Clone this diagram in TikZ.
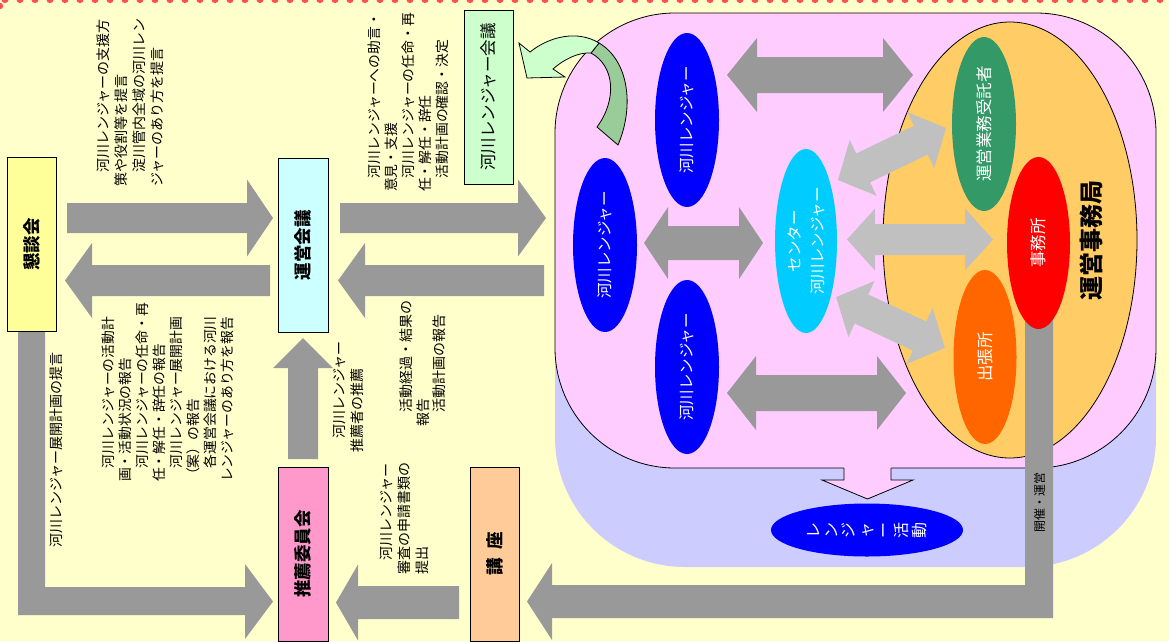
\documentclass[tikz,border=0pt]{standalone}
\usepackage{fontspec}
\setmainfont{Noto Sans CJK JP}
\usetikzlibrary{shapes.geometric}
\definecolor{bg}{HTML}{FFFFCC}
\definecolor{dotred}{HTML}{FF5050}
\definecolor{lav}{HTML}{CCCCFF}
\definecolor{pinkR}{HTML}{FFCCFF}
\definecolor{orangeBig}{HTML}{FFCC66}
\definecolor{grayA}{HTML}{999999}
\definecolor{grayL}{HTML}{C0C0C0}
\definecolor{blueE}{HTML}{0000FF}
\definecolor{cyanE}{HTML}{00CCFF}
\definecolor{greenE}{HTML}{339966}
\definecolor{redE}{HTML}{FF0000}
\definecolor{orangeE}{HTML}{FF6600}
\definecolor{kondanC}{HTML}{FFFF99}
\definecolor{uneiC}{HTML}{CCFFFF}
\definecolor{suisenC}{HTML}{FF99CC}
\definecolor{kozaC}{HTML}{FFCC99}
\definecolor{greenL}{HTML}{CCFFCC}
\definecolor{greenD}{HTML}{99CC99}
% block arrows: tail x, tip x, centre y, shaft half, head half, head length
\newcommand{\blkR}[6]{\fill[grayA] (#1,#3-#4) -- (#2-#6,#3-#4) -- (#2-#6,#3-#5) -- (#2,#3) -- (#2-#6,#3+#5) -- (#2-#6,#3+#4) -- (#1,#3+#4) -- cycle;}
% tip x, tail x, centre y, shaft half, head half, head length
\newcommand{\blkL}[6]{\fill[grayA] (#2,#3-#4) -- (#1+#6,#3-#4) -- (#1+#6,#3-#5) -- (#1,#3) -- (#1+#6,#3+#5) -- (#1+#6,#3+#4) -- (#2,#3+#4) -- cycle;}
% centre x, tip y, tail y, shaft half, head half, head length
\newcommand{\blkU}[6]{\fill[grayA] (#1-#4,#3) -- (#1-#4,#2+#6) -- (#1-#5,#2+#6) -- (#1,#2) -- (#1+#5,#2+#6) -- (#1+#4,#2+#6) -- (#1+#4,#3) -- cycle;}
% left tip, right tip, centre y, shaft half, head half, head length, colour
\newcommand{\blkD}[7]{\fill[#7] (#1,#3) -- (#1+#6,#3-#5) -- (#1+#6,#3-#4) -- (#2-#6,#3-#4) -- (#2-#6,#3-#5) -- (#2,#3) -- (#2-#6,#3+#5) -- (#2-#6,#3+#4) -- (#1+#6,#3+#4) -- (#1+#6,#3+#5) -- cycle;}
\begin{document}
\begin{tikzpicture}[x=1pt,y=-1pt,
  box/.style={draw=black, line width=1pt, rotate=90, inner sep=0pt, font=\fontsize{17.5}{20}\selectfont\bfseries},
  lbl/.style={rotate=90, align=left, inner sep=0pt, anchor=north west},
  ell/.style={ellipse, rotate=90, inner sep=0pt, text=white, font=\fontsize{15.5}{18}\selectfont},
]
\useasboundingbox (0,0) rectangle (1169,641);
\fill[bg] (0,0) rectangle (1169,641);
% dotted top border
\foreach \i in {0,...,78} \fill[dotred] (5+15*\i,-0.5) circle (3.6pt);
\fill[dotred] (0,6) circle (3.2pt);

% ranger zone
\fill[lav, rounded corners=130pt] (555,100) rectangle (1156,567);
\draw[fill=pinkR, line width=0.8pt, rounded corners=120pt] (555,13) rectangle (1156,468);
\node[ellipse, draw=black, line width=0.8pt, fill=orangeBig, minimum width=254pt, minimum height=436pt, inner sep=0pt] (jimukyoku) at (1010,240) {};

% dark double arrows
\blkD{727}{913}{75}{18}{37}{30}{grayA}
\blkD{644}{763}{243}{17}{36}{24}{grayA}
\blkD{727}{906}{393}{18}{37}{29}{grayA}
% light double arrows
\begin{scope}[shift={(892,154)}, rotate=25.7]
\blkD{-60}{60}{0}{16}{31}{28}{grayL}
\end{scope}
\blkD{847}{993}{239.5}{15.5}{31}{28}{grayL}
\begin{scope}[shift={(890.5,322.5)}, rotate=-25]
\blkD{-60}{60}{0}{16}{31}{28}{grayL}
\end{scope}

% jimusho -> koza (L-shaped)
\fill[grayA] (1025,318) -- (1053,318) -- (1053,618) -- (552,618) -- (552,640) -- (527,601.5) -- (552,563) -- (552,585) -- (1025,585) -- cycle;
\node[rotate=90, inner sep=0pt, font=\fontsize{12}{14}\selectfont] (kaisai) at (1039.5,502) {開催・運営};

% ellipses
\node[ell, fill=blueE, minimum width=174pt, minimum height=64pt] (rtop) at (687,120) {河川レンジャー};
\node[ell, fill=blueE, minimum width=174pt, minimum height=64pt] (rleft) at (605,245) {河川レンジャー};
\node[ell, fill=blueE, minimum width=174pt, minimum height=64pt] (rbot) at (687,367) {河川レンジャー};
\node[ell, fill=cyanE, minimum width=184pt, minimum height=62pt, align=center, font=\fontsize{15.5}{23}\selectfont] (center) at (806,241) {センター\\河川レンジャー};
\node[ell, fill=greenE, minimum width=174pt, minimum height=64pt, font=\fontsize{16.5}{18}\selectfont] (itaku) at (984,124) {運営業務受託者};
\node[ell, fill=orangeE, minimum width=174pt, minimum height=63pt, font=\fontsize{16.5}{18}\selectfont] (shutcho) at (985,357) {出張所};
\node[ell, fill=redE, minimum width=172pt, minimum height=63pt, font=\fontsize{16.5}{18}\selectfont] (jimusho) at (1038.5,243) {事務所};
\node[rotate=90, inner sep=0pt, font=\fontsize{24}{26}\selectfont\bfseries] (jimukyokuT) at (1091,240) {運営事務局};

% ranger activity
\fill[pinkR] (844,466.5) -- (844,480) -- (822,480) -- (867.5,499) -- (913,480) -- (891,480) -- (891,466.5) -- cycle;
\draw[line width=0.8pt] (844,468) -- (844,480) -- (822,480) -- (867.5,499) -- (913,480) -- (891,480) -- (891,468);
\node[ell, fill=blueE, minimum width=53pt, minimum height=192pt, align=center, font=\fontsize{16}{17.6}\selectfont] (act) at (867,530) {レ\\ン\\ジ\\ャ\\ー\\活\\動};

% green curved arrow
\filldraw[fill=greenD, line width=0.8pt] (599,43) .. controls (628,60) and (635,105) .. (618,145) -- (597,127) .. controls (617,100) and (615,66) .. (591,53) -- cycle;
\filldraw[fill=greenL, line width=0.8pt] (527,78) -- (519,43) -- (530,52) .. controls (550,36) and (578,30) .. (599,43) -- (591,53) .. controls (578,52) and (563,60) .. (553,69) -- (565,77) -- cycle;

% boxes
\node[box, fill=kondanC, minimum width=174pt, minimum height=49pt] (kondan) at (31.5,244.5) {懇談会};
\node[box, fill=uneiC, minimum width=174pt, minimum height=50pt] (unei) at (303,245) {運営会議};
\node[box, fill=suisenC, minimum width=174pt, minimum height=50pt] (suisen) at (303,554) {推薦委員会};
\node[box, fill=kozaC, minimum width=174pt, minimum height=49pt] (koza) at (494.5,554) {講\hspace{0.5em}座};
\node[box, fill=greenL, minimum width=174pt, minimum height=49pt, font=\fontsize{16.5}{20}\selectfont] (rkaigi) at (488.5,97) {河川レンジャー会議};

% big arrows
\blkR{67}{273}{218}{15}{38.5}{26}
\blkL{65}{270}{280.5}{15.5}{37.5}{27}
\blkR{340}{546}{218}{15}{38.5}{28}
\blkL{338}{544}{280.5}{15.5}{37.5}{27}
\blkU{303}{338}{459}{15}{30}{30}
\blkL{336}{459}{602.5}{16.5}{38}{22}
\fill[grayA] (18,332) -- (45,332) -- (45,587) -- (245,587) -- (245,564) -- (273,601.5) -- (245,639) -- (245,615) -- (18,615) -- cycle;

% labels
\node[lbl, font=\fontsize{14}{18}\selectfont] (labA) at (96,187) {\hspace*{1em}河川レンジャーの支援方\\策や役割等を提言\\\hspace*{1em}淀川管内全域の河川レン\\ジャーのあり方を提言};
\node[lbl, font=\fontsize{14}{17}\selectfont] (labB) at (50,548) {河川レンジャー展開計画の提言};
\node[lbl, font=\fontsize{13.8}{16.9}\selectfont] (labC) at (102,482) {\hspace*{1em}河川レンジャーの活動計\\画・活動状況の報告\\\hspace*{1em}河川レンジャーの任命・再\\任・解任・辞任の報告\\\hspace*{1em}河川レンジャー展開計画\\（案）の報告\\\hspace*{1em}各運営会議における河川\\レンジャーのあり方を報告};
\node[lbl, font=\fontsize{14}{18}\selectfont] (labD) at (333,453) {\hspace*{1em}河川レンジャー\\推薦者の推薦};
\node[lbl, font=\fontsize{13.8}{17}\selectfont] (labE) at (368,192) {\hspace*{1em}河川レンジャーへの助言・\\意見・支援\\\hspace*{1em}河川レンジャーの任命・再\\任・解任・辞任\\\hspace*{1em}活動計画の確認・決定};
\node[lbl, font=\fontsize{14}{16.5}\selectfont] (labF) at (400,427) {\hspace*{1em}活動経過・結果の\\報告\\\hspace*{1em}活動計画の報告};
\node[lbl, font=\fontsize{14}{18}\selectfont] (labG) at (380,575) {\hspace*{1em}河川レンジャー\\審査の申請書類の\\提出};
\end{tikzpicture}
\end{document}
